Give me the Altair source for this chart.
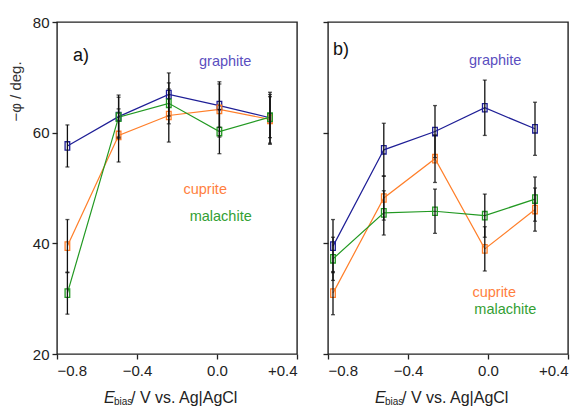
import altair as alt
import pandas as pd

# ---- data ----
x_a = [-0.748, -0.492, -0.241, 0.012, 0.265]
x_b = [-0.775, -0.521, -0.265, -0.016, 0.235]

graphite_a = [57.6, 62.9, 66.9, 64.9, 62.7]
graphite_a_err = [3.8, 3.9, 3.9, 3.9, 4.6]
cuprite_a = [39.5, 59.5, 63.1, 64.2, 62.4]
cuprite_a_err = [4.8, 4.8, 4.8, 5.0, 4.5]
malachite_a = [31.0, 62.8, 65.3, 60.2, 62.8]
malachite_a_err = [3.8, 3.6, 3.7, 4.0, 3.7]

graphite_b = [39.5, 56.9, 60.2, 64.5, 60.7]
graphite_b_err = [4.8, 4.8, 4.7, 5.0, 4.8]
cuprite_b = [31.0, 48.2, 55.3, 39.0, 46.1]
cuprite_b_err = [3.9, 4.0, 4.3, 4.0, 3.9]
malachite_b = [37.2, 45.5, 45.8, 45.0, 48.0]
malachite_b_err = [3.9, 4.0, 4.0, 3.9, 4.0]

series_names = ["graphite", "cuprite", "malachite"]
line_colors = ["#1e1e96", "#ff7f2a", "#229922"]
text_colors = ["#5b4fc0", "#ff7f3f", "#33a033"]

x_ticks = [-0.8, -0.4, 0.0, 0.4]
y_ticks = [20, 40, 60, 80]

# annotation text positions (data coordinates)
ann_a = {"label": ["a)", "graphite", "cuprite", "malachite"],
         "x": [-0.72, 0.041, -0.059, 0.0185],
         "y": [73.8, 72.7, 49.6, 44.7],
         "color": ["#111111"] + text_colors,
         "size": [18, 14.5, 14.5, 14.5],
         "align": ["left", "center", "center", "center"]}
ann_b = {"label": ["b)", "graphite", "cuprite", "malachite"],
         "x": [-0.775, 0.036, 0.031, 0.087],
         "y": [74.9, 72.9, 31.1, 27.9],
         "color": ["#111111"] + text_colors,
         "size": [18, 14.5, 14.5, 14.5],
         "align": ["left", "center", "center", "center"]}

FONT = "Liberation Sans"
W, H = 240, 332


def build_df(xs, vals, errs):
    rows = []
    for si, name in enumerate(series_names):
        for i, x in enumerate(xs):
            v = vals[si][i]
            e = errs[si][i]
            rows.append({"series": name, "order": si, "x": x, "y": v,
                         "lo": v - e, "hi": v + e})
    return pd.DataFrame(rows)


df_a = build_df(x_a, [graphite_a, cuprite_a, malachite_a],
                [graphite_a_err, cuprite_a_err, malachite_a_err])
df_b = build_df(x_b, [graphite_b, cuprite_b, malachite_b],
                [graphite_b_err, cuprite_b_err, malachite_b_err])

x_scale = alt.Scale(domain=[-0.8, 0.4], nice=False, zero=False)
y_scale = alt.Scale(domain=[20, 80], nice=False, zero=False)
color_scale = alt.Scale(domain=series_names, range=line_colors)

x_label_expr = "datum.value > 0.001 ? '+' + format(datum.value, '.1f') : format(datum.value, '.1f')"


def panel(df, ann, show_y_labels):
    base = alt.Chart(df)
    x_axis = alt.Axis(values=x_ticks, labelExpr=x_label_expr, title=None,
                      tickSize=5, labelPadding=4)
    if show_y_labels:
        y_axis = alt.Axis(values=y_ticks, title="\u2212\u03c6\u00a0/\u00a0deg.",
                          tickSize=5, labelPadding=3,
                          titleAngle=-90, titleAlign="center",
                          titleBaseline="bottom", titleX=-34, titleY=69,
                          titleFontSize=15, titleFontWeight="normal",
                          titleColor="#333333", titleFont=FONT)
    else:
        y_axis = alt.Axis(values=y_ticks, title=None, labels=False, tickSize=5)

    xenc = alt.X("x:Q", scale=x_scale, axis=x_axis)
    yenc = alt.Y("y:Q", scale=y_scale, axis=y_axis)

    lines = base.mark_line(strokeWidth=1.2).encode(
        x=xenc, y=yenc,
        color=alt.Color("series:N", scale=color_scale, legend=None),
        detail="series:N", order="x:Q")
    points = base.mark_point(
        shape="M-0.55,-1L0.55,-1L0.55,1L-0.55,1Z", size=70,
        filled=False, strokeWidth=1.3, opacity=1).encode(
        x="x:Q", y="y:Q",
        color=alt.Color("series:N", scale=color_scale, legend=None))
    rules = base.mark_rule(color="#111111", strokeWidth=1.3).encode(
        x="x:Q", y="lo:Q", y2="hi:Q")
    caps_hi = base.mark_tick(color="#111111", orient="horizontal",
                             size=4, thickness=1.3).encode(x="x:Q", y="hi:Q")
    caps_lo = base.mark_tick(color="#111111", orient="horizontal",
                             size=4, thickness=1.3).encode(x="x:Q", y="lo:Q")

    ann_df = pd.DataFrame(ann)
    ann_layers = []
    for i in range(len(ann_df)):
        row = ann_df.iloc[[i]]
        ann_layers.append(
            alt.Chart(row).mark_text(
                font=FONT, fontSize=float(row["size"].iloc[0]),
                align=row["align"].iloc[0], baseline="middle",
                color=row["color"].iloc[0]).encode(
                x="x:Q", y="y:Q", text="label:N"))

    # x-axis title pieces (E italic, subscript "bias", rest)
    t_e = alt.Chart(pd.DataFrame({"t": ["E"]})).mark_text(
        font=FONT, fontSize=16, fontStyle="italic", align="left",
        baseline="alphabetic", color="#222222").encode(
        x=alt.value(47), y=alt.value(H + 49), text="t:N")
    t_sub = alt.Chart(pd.DataFrame({"t": ["bias"]})).mark_text(
        font=FONT, fontSize=10, align="left",
        baseline="alphabetic", color="#222222").encode(
        x=alt.value(57), y=alt.value(H + 51), text="t:N")
    t_rest = alt.Chart(pd.DataFrame({"t": ["/ V vs. Ag|AgCl"]})).mark_text(
        font=FONT, fontSize=16, align="left",
        baseline="alphabetic", color="#222222").encode(
        x=alt.value(74), y=alt.value(H + 49), text="t:N")

    return alt.layer(lines, points, rules, caps_hi, caps_lo, *ann_layers,
                     t_e, t_sub, t_rest).properties(width=W, height=H)


chart = alt.hconcat(panel(df_a, ann_a, True), panel(df_b, ann_b, False),
                    spacing=22).properties(
    padding={"left": 7, "top": 14, "right": 0, "bottom": 0}
).configure_view(
    stroke="#222222", strokeWidth=1.4
).configure_axis(
    grid=False, domain=False, tickColor="#222222", tickWidth=1.3,
    labelFont=FONT, labelFontSize=15, labelColor="#222222",
    titleFont=FONT
)

chart.save("out.html", embed_options={"renderer": "svg", "actions": False})
